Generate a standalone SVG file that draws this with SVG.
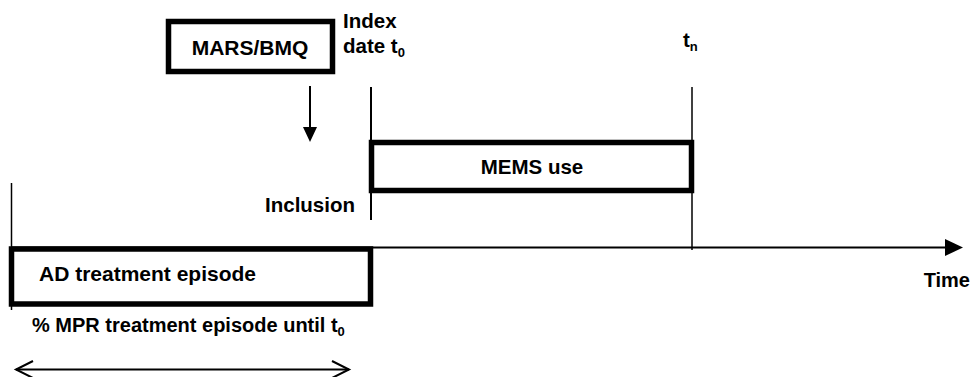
<svg xmlns="http://www.w3.org/2000/svg" width="971" height="377" viewBox="0 0 971 377">
  <defs>
    <style>
      text { font-family: "Liberation Sans", Arial, sans-serif; font-weight: bold; font-size: 20.5px; fill: #000; }
      .box { fill: #fff; stroke: #000; stroke-width: 5.5; }
      .thin { stroke: #000; stroke-width: 2; fill: none; }
      .sub { font-size: 13px; }
    </style>
  </defs>
  <rect width="971" height="377" fill="#fff"/>

  <g id="connectors">
    <line class="thin" x1="11" y1="247.5" x2="948" y2="247.5"/>
    <polygon points="945,239 963,247.5 945,256" fill="#000"/>
    <line x1="11.5" y1="183" x2="11.5" y2="310" stroke="#000" stroke-width="1.5"/>
    <line class="thin" x1="371" y1="87" x2="371" y2="220"/>
    <line x1="692" y1="87" x2="692" y2="250" stroke="#000" stroke-width="1.5"/>
    <line class="thin" x1="310" y1="86" x2="310" y2="129"/>
    <polygon points="303,127 317,127 310,142" fill="#000"/>
    <line class="thin" x1="16" y1="369.5" x2="349" y2="369.5"/>
    <polyline class="thin" points="33,361 16,369.5 33,378"/>
    <polyline class="thin" points="332,361 349,369.5 332,378"/>
  </g>

  <g id="mars-bmq">
    <rect class="box" x="168.5" y="21.5" width="164" height="50"/>
    <text x="250" y="55" text-anchor="middle" style="font-size:21px">MARS/BMQ</text>
  </g>

  <g id="index-date">
    <text x="343" y="28">Index</text>
    <text x="343" y="53">date t<tspan class="sub" dy="4">0</tspan></text>
  </g>

  <g id="tn">
    <text x="683" y="47">t<tspan class="sub" dy="4">n</tspan></text>
  </g>

  <g id="mems-use">
    <rect class="box" x="371.5" y="142.5" width="320" height="48"/>
    <text x="532" y="174" text-anchor="middle">MEMS use</text>
  </g>

  <g id="inclusion">
    <text x="355" y="212" text-anchor="end">Inclusion</text>
  </g>

  <g id="ad-episode">
    <rect class="box" x="11.5" y="249" width="359" height="55"/>
    <text x="39" y="281" style="font-size:21px">AD treatment episode</text>
  </g>

  <g id="mpr-label">
    <text x="32" y="332" style="font-size:20px">% MPR treatment episode until t<tspan class="sub" dy="4">0</tspan></text>
  </g>

  <g id="time-label">
    <text x="970" y="287" text-anchor="end" style="font-size:20px">Time</text>
  </g>
</svg>
